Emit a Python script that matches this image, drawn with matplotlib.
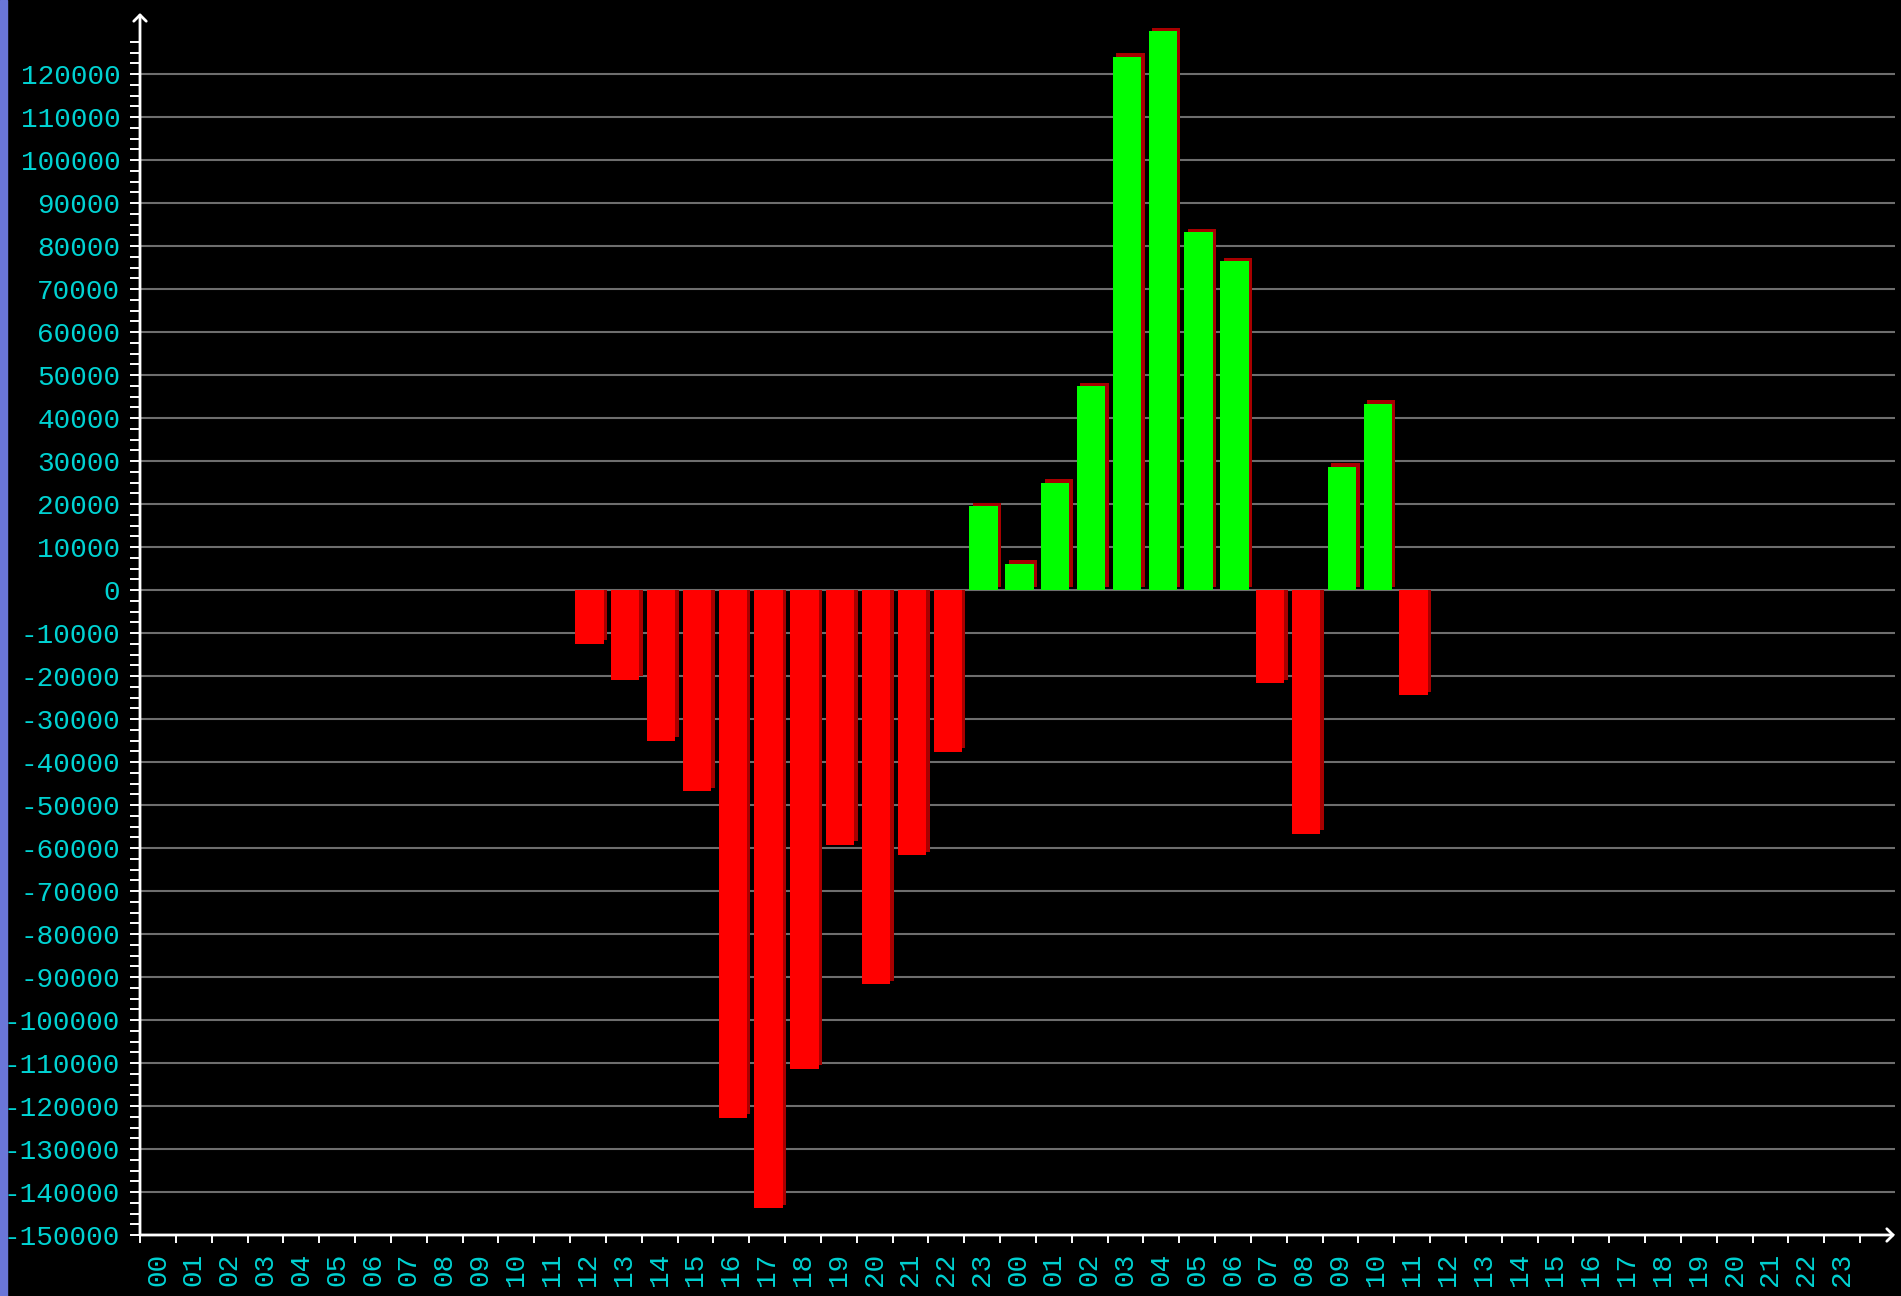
import numpy as np
import matplotlib
matplotlib.use("Agg")
import matplotlib.pyplot as plt
from matplotlib.patches import Rectangle
from matplotlib.ticker import FixedLocator
from matplotlib.transforms import offset_copy

# hourly net values, first bar sits in slot 12 of a 48-slot (two day) axis
bar_hours = ["12", "13", "14", "15", "16", "17", "18", "19", "20", "21", "22", "23",
             "00", "01", "02", "03", "04", "05", "06", "07", "08", "09", "10", "11"]
net_values = [-12500, -20900, -35100, -46800, -122700, -143800, -111300, -59300,
              -91700, -61700, -37600, 19500, 6100, 24900, 47400, 124000,
              129900, 83200, 76400, -21700, -56700, 28700, 43300, -24500]
first_slot = 12

hour_labels = [f"{h:02d}" for h in range(24)] * 2
y_ticks = list(range(-150000, 130000, 10000))

BG = "black"
CYAN = "#00D2D2"
GRID = "#6E6E6E"
FONT = "Liberation Mono"

W, H, DPI = 1901, 1296, 100
fig = plt.figure(figsize=(W / DPI, H / DPI), dpi=DPI, facecolor=BG)

# blue strip on the left edge
fig.patches.append(Rectangle((0, 0), 7 / W, 1, transform=fig.transFigure,
                             color="#6A76D8", zorder=0))

left, right, bottom, top = 140, 1895, 1235, 13
ax = fig.add_axes([left / W, (H - bottom) / H, (right - left) / W, (bottom - top) / H])
ax.set_facecolor(BG)

slot_px = (1860 - 140) / 48
unit_px = 43 / 10000
xmax = (right - left) / slot_px
ymin = -150000
ymax = ymin + (bottom - top) / unit_px
ax.set_xlim(0, xmax)
ax.set_ylim(ymin, ymax)

for s in ax.spines.values():
    s.set_visible(False)

# grid
for v in y_ticks:
    ax.axhline(v, color=GRID, lw=1.5, zorder=1)

# bars with a dark red 3D shadow, shifted up/right
off = 3.5
x = first_slot + np.arange(len(net_values)) + 0.54
vals = np.array(net_values)
colors = ["#00FF00" if v > 0 else "#FF0000" for v in vals]
# negative bars: keep the shadow from poking above the zero line
shadow_base = np.where(vals < 0, -off / unit_px, 0)
shadow_tr = offset_copy(ax.transData, fig=fig, x=off, y=off, units="dots")
ax.bar(x, vals - shadow_base, bottom=shadow_base, width=0.79, color="#A80000",
       zorder=2, transform=shadow_tr)
ax.bar(x, vals, width=0.79, color=colors, zorder=3)

# axis lines with open arrow heads
arrow = dict(arrowstyle="->,head_length=0.45,head_width=0.45", color="white",
             lw=2, shrinkA=0, shrinkB=0)
ax.annotate("", xy=(0, ymax), xytext=(0, ymin), arrowprops=arrow,
            annotation_clip=False, zorder=5)
ax.annotate("", xy=(xmax, ymin), xytext=(0, ymin), arrowprops=arrow,
            annotation_clip=False, zorder=5)

# y ticks
ax.yaxis.set_major_locator(FixedLocator(y_ticks))
ax.set_yticklabels([str(v) for v in y_ticks])
ax.yaxis.set_minor_locator(FixedLocator(np.arange(-150000, 130000, 2500)))
ax.tick_params(axis="y", which="both", colors="white", length=7.2, width=1.4,
               direction="out", pad=7)
ax.tick_params(axis="y", which="major", labelcolor=CYAN, labelsize=20)

# x ticks: marks at slot boundaries, labels centred in slots
ax.xaxis.set_major_locator(FixedLocator(np.arange(0, 49)))
ax.xaxis.set_minor_locator(FixedLocator(np.arange(48) + 0.5))
ax.set_xticklabels([""] * 49)
ax.set_xticklabels(hour_labels, minor=True, rotation=90)
ax.tick_params(axis="x", which="major", colors="white", length=5.8, width=1.4,
               direction="out")
ax.tick_params(axis="x", which="minor", length=0, pad=13, labelcolor=CYAN,
               labelsize=20)

for lab in ax.get_yticklabels() + ax.get_xticklabels(minor=True):
    lab.set_family(FONT)

fig.savefig("out.png", dpi=DPI, facecolor=BG)
